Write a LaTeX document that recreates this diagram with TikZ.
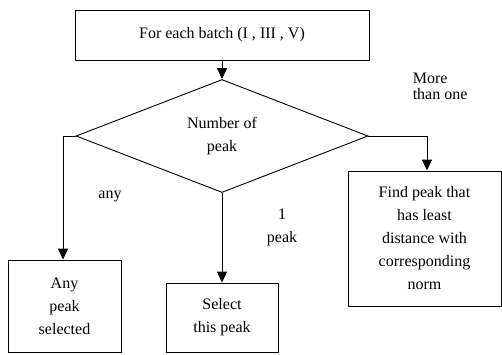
\documentclass[tikz,border=0pt]{standalone}
\usepackage{fontspec}
\setmainfont{Liberation Serif}
\usetikzlibrary{shapes.geometric,arrows.meta}

\begin{document}
\begin{tikzpicture}[x=1pt,y=-1pt,line width=0.9pt,
    box/.style={draw,rectangle,inner sep=2pt,align=center,font=\fontsize{16}{23}\selectfont},
    lbl/.style={font=\fontsize{16}{23}\selectfont,align=center},
    arr/.style={-{Triangle[width=10pt,length=11pt]}}]
        \useasboundingbox (0,0) rectangle (502,354);
        \node[box,minimum width=294pt,minimum height=50pt] (batch) at (222,35) {For each batch (I , III , V)};
        \node[draw,diamond,minimum width=292pt,minimum height=113pt,inner sep=0pt,lbl] (num) at (222,136) {Number of\\peak};
        \node[box,minimum width=113pt,minimum height=92pt] (any) at (64.5,306) {Any\\peak\\selected};
        \node[box,minimum width=112pt,minimum height=69pt] (sel) at (222,317.5) {Select\\this peak};
        \node[box,minimum width=153pt,minimum height=135pt] (find) at (424.5,238.5) {Find peak that\\has least\\distance with\\corresponding\\norm};
        \coordinate (leftx) at (63,0);
        \coordinate (rightx) at (427,0);
        \draw[arr] (batch) -- (num);
        \draw[arr] (num.west) -| (any.north -| leftx);
        \draw[arr] (num.south) -- (sel.north);
        \draw[arr] (num.east) -| (find.north -| rightx);
        \node[lbl] (anylbl) at (110,196) {any};
        \node[lbl] (onelbl) at (282,227) {1\\peak};
        \node[font=\fontsize{16}{16}\selectfont,align=left,anchor=west] (morelbl) at (409,86) {More\\than one};
\end{tikzpicture}
\end{document}
